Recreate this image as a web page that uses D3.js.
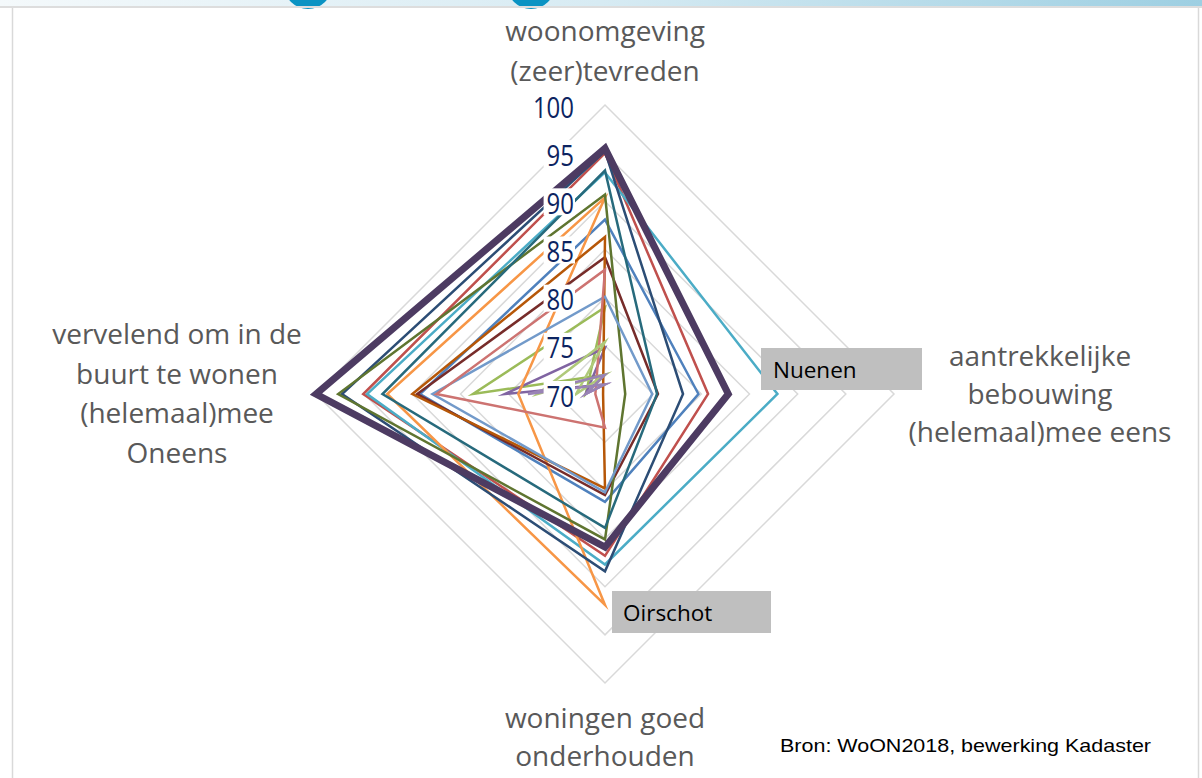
<!DOCTYPE html>
<html><head><meta charset="utf-8">
<script src="https://cdn.jsdelivr.net/npm/d3@7"></script>
<style>body{margin:0;background:#fff}svg{display:block}</style>
</head><body>
<svg id="c" width="1202" height="778"></svg>
<script>
// ---- data ----
const axisNames = ["woonomgeving (zeer)tevreden","aantrekkelijke bebouwing (helemaal)mee eens","woningen goed onderhouden","vervelend om in de buurt te wonen (helemaal)mee Oneens"];
const axisLabelLines = [
  ["woonomgeving","(zeer)tevreden"],
  ["aantrekkelijke","bebouwing","(helemaal)mee eens"],
  ["woningen goed","onderhouden"],
  ["vervelend om in de","buurt te wonen","(helemaal)mee","Oneens"]
];
const tickValues = [70,75,80,85,90,95,100];
const seriesColors = ["#4F81BD","#C0504D","#9BBB59","#8064A2","#4BACC6","#F79646","#2C4D75","#772C2A","#5F7530","#276A7C","#B65708","#729ACA","#CD7371","#AFC97A","#9983B5","#4D3B62"];
const valTop    = [88.1, 95.0, 79.0, 74.8, 93.0, 90.4, 95.2, 84.2, 90.7, 93.2, 86.3, 80.1, 82.9, 75.4, 72.0, 95.5];
const valRight  = [79.7, 80.7, 68.0, 68.0, 87.9, 61.0, 78.1, 75.5, 72.1, 75.4, 69.8, 74.9, 69.0, 67.0, 68.0, 82.8];
const valBottom = [81.2, 86.8, 68.0, 69.0, 87.7, 91.9, 88.4, 80.5, 85.1, 83.9, 79.8, 80.2, 73.5, 68.0, 69.0, 85.9];
const valLeft   = [89.2, 95.1, 83.7, 80.4, 94.7, 92.6, 97.3, 89.5, 97.7, 93.1, 90.0, 87.9, 87.5, 77.0, 78.0, 100.0];
const seriesWidths = [2.5,2.5,2.5,2.5,2.5,2.5,2.5,2.5,2.5,2.5,2.5,2.5,2.5,2.5,2.5,7];
const calloutLabels = ["Nuenen","Oirschot"];
const sourceText = "Bron: WoON2018, bewerking Kadaster";

// ---- layout ----
const svg = d3.select("#c");
const cx = 605, cy = 394, R = 289;
const r = d3.scaleLinear().domain([70,100]).range([0,R]); // unclamped: values <70 pass through centre
const angle = d3.scaleOrdinal().domain([0,1,2,3]).range([0, Math.PI/2, Math.PI, 3*Math.PI/2]);
const pt = (i,v) => [cx + r(v)*Math.sin(angle(i)), cy - r(v)*Math.cos(angle(i))];

// header band
const defs = svg.append("defs");
const g1 = defs.append("linearGradient").attr("id","hdr");
g1.append("stop").attr("offset","0").attr("stop-color","#f4f9fb");
g1.append("stop").attr("offset","0.5").attr("stop-color","#d7ebf3");
g1.append("stop").attr("offset","1").attr("stop-color","#9dcfe2");
svg.append("rect").attr("x",0).attr("y",0).attr("width",1202).attr("height",7).attr("fill","url(#hdr)");
[308,531].forEach(x=>svg.append("circle").attr("cx",x).attr("cy",-15).attr("r",24).attr("fill","#0a93c3"));
svg.append("rect").attr("x",0).attr("y",6).attr("width",1202).attr("height",2).attr("fill","#dddddd");
svg.append("line").attr("x1",12.5).attr("x2",12.5).attr("y1",8).attr("y2",778).attr("stroke","#d9d9d9").attr("stroke-width",1.5);
svg.append("line").attr("x1",1198.5).attr("x2",1198.5).attr("y1",8).attr("y2",778).attr("stroke","#d9d9d9").attr("stroke-width",1.5);

// grid
const line = d3.line().curve(d3.curveLinearClosed);
tickValues.filter(v=>v>70).forEach(v=>{
  svg.append("path").attr("d", line([0,1,2,3].map(i=>pt(i,v))))
    .attr("fill","none").attr("stroke","#d9d9d9").attr("stroke-width",1.5);
});

// series
const gS = svg.append("g");
seriesColors.forEach((c,k)=>{
  const vals = [valTop[k], valRight[k], valBottom[k], valLeft[k]];
  gS.append("path").attr("d", line(vals.map((v,i)=>pt(i,v))))
    .attr("fill","none").attr("stroke",c).attr("stroke-width",seriesWidths[k])
    .attr("stroke-linejoin","miter").attr("stroke-miterlimit",10);
});

// tick labels
const gT = svg.append("g");
tickValues.forEach(v=>{
  const y = cy - r(v);
  const s = String(v);
  gT.append("rect").attr("x",574 - s.length*13.7 - 3).attr("y",y-13).attr("width",s.length*13.7+4).attr("height",27).attr("fill","#fff");
  gT.append("text").attr("x",574).attr("y",y+1).attr("text-anchor","end")
    .attr("dominant-baseline","central").attr("font-family","Open Sans, sans-serif")
    .attr("font-size",29).attr("textLength",s.length*13.7).attr("lengthAdjust","spacingAndGlyphs")
    .attr("fill","#0c2461").text(s);
});

// axis labels
const labelPos = [[605,30,40],[1040,355,38],[605,717,38],[177,333,39.5]];
axisLabelLines.forEach((lines,i)=>{
  const [x,y0,lh] = labelPos[i];
  lines.forEach((s,j)=>{
    svg.append("text").attr("x",x).attr("y",y0+j*lh).attr("text-anchor","middle")
      .attr("dominant-baseline","central").attr("font-family","Open Sans, sans-serif")
      .attr("font-size",28).attr("fill","#595959").text(s);
  });
});

// callouts
const callouts = [[761,348,161,42,773],[612,591,159,42,623]];
callouts.forEach((c,i)=>{
  svg.append("rect").attr("x",c[0]).attr("y",c[1]).attr("width",c[2]).attr("height",c[3]).attr("fill","#bfbfbf");
  svg.append("text").attr("x",c[4]).attr("y",c[1]+c[3]/2).attr("dominant-baseline","central")
    .attr("font-family","Open Sans, sans-serif").attr("font-size",22.5).attr("fill","#000").text(calloutLabels[i]);
});

// source
svg.append("text").attr("x",780).attr("y",752).attr("font-family","Liberation Sans, Arial, sans-serif")
  .attr("font-size",19).attr("textLength",371).attr("lengthAdjust","spacingAndGlyphs").attr("fill","#000").text(sourceText);
</script>
</body></html>
